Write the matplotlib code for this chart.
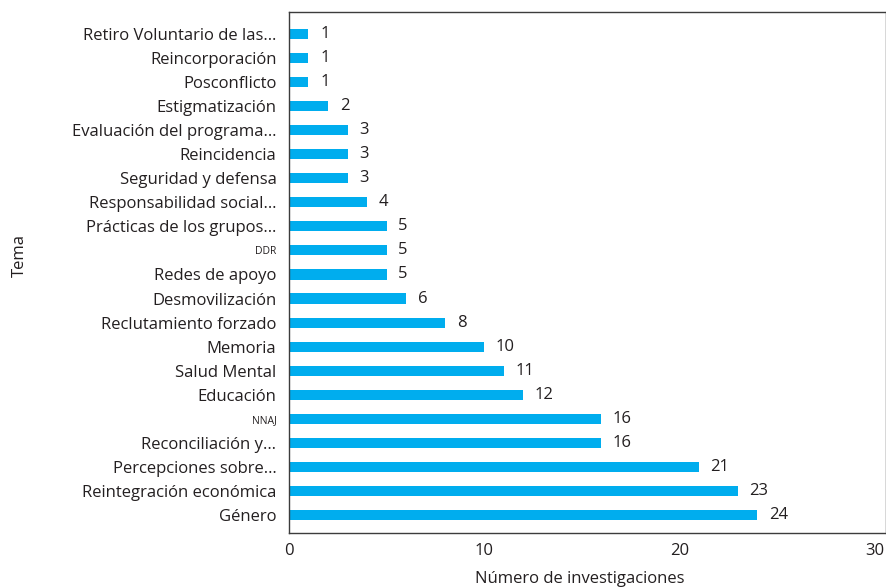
import matplotlib
matplotlib.use("Agg")
import matplotlib.pyplot as plt
import numpy as np

# Temas (de abajo hacia arriba) y número de investigaciones
TEMAS = [
    "Género",
    "Reintegración económica",
    "Percepciones sobre…",
    "Reconciliación y…",
    "NNAJ",
    "Educación",
    "Salud Mental",
    "Memoria",
    "Reclutamiento forzado",
    "Desmovilización",
    "Redes de apoyo",
    "DDR",
    "Prácticas de los grupos…",
    "Responsabilidad social…",
    "Seguridad y defensa",
    "Reincidencia",
    "Evaluación del programa…",
    "Estigmatización",
    "Posconflicto",
    "Reincorporación",
    "Retiro Voluntario de las…",
]
VALORES = [24, 23, 21, 16, 16, 12, 11, 10, 8, 6, 5, 5, 5, 4, 3, 3, 3, 2, 1, 1, 1]
SMALL_LABELS = {"NNAJ", "DDR"}
X_TICKS = [0, 10, 20, 30]

BAR_COLOR = "#00ADEE"
TEXT_COLOR = "#231F20"

plt.rcParams["font.family"] = ["Open Sans", "DejaVu Sans"]

fig = plt.figure(figsize=(8.87, 5.88), dpi=100)
ax = fig.add_axes([0.3258, 0.0935, 0.6731, 0.8861])

y = np.arange(len(TEMAS))
ax.barh(y, VALORES, height=0.42, color=BAR_COLOR)

for yi, v in zip(y, VALORES):
    ax.text(v + 0.6, yi, str(v), va="center", ha="left", fontsize=12, color=TEXT_COLOR)

ax.set_xlim(0, 30.6)
ax.set_ylim(-0.75, 20.915)
ax.set_xticks(X_TICKS)
ax.set_yticks(y)
ax.set_yticklabels(TEMAS)
for lbl in ax.get_yticklabels():
    if lbl.get_text() in SMALL_LABELS:
        lbl.set_fontsize(7.5)
    else:
        lbl.set_fontsize(12)
    lbl.set_color(TEXT_COLOR)
for lbl in ax.get_xticklabels():
    lbl.set_fontsize(12)
    lbl.set_color(TEXT_COLOR)

ax.tick_params(axis="both", length=0)
ax.tick_params(axis="y", pad=9)
ax.tick_params(axis="x", pad=7)

for sp in ax.spines.values():
    sp.set_color("#3c3c3c")
    sp.set_linewidth(1.0)

ax.set_xlabel("Número de investigaciones", fontsize=12, color=TEXT_COLOR)
ax.set_ylabel("Tema", fontsize=12, color=TEXT_COLOR)
ax.xaxis.set_label_coords(0.487, -0.072)
ax.yaxis.set_label_coords(-0.437, 0.532)

fig.savefig("out.png", dpi=100)
